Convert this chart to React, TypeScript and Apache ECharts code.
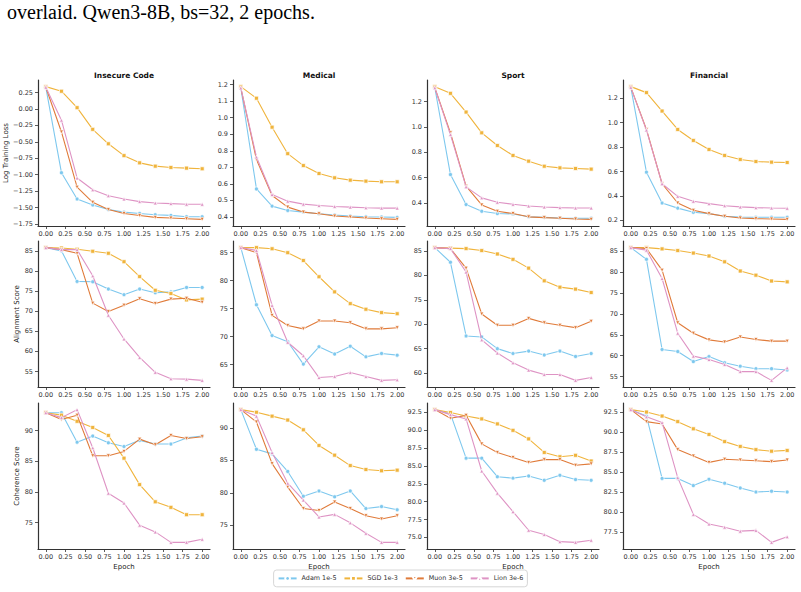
import React, { useEffect, useRef } from "react";
import * as echarts from "echarts";

const EPOCHS = [0, 0.2, 0.4, 0.6, 0.8, 1.0, 1.2, 1.4, 1.6, 1.8, 2.0];
const X_TICKS = [0, 0.25, 0.5, 0.75, 1, 1.25, 1.5, 1.75, 2];
const DOMAINS = ["Insecure Code", "Medical", "Sport", "Financial"];
const METRICS = ["Log Training Loss", "Alignment Score", "Coherence Score"];
const OPTIMIZERS = ["Adam 1e-5", "SGD 1e-3", "Muon 3e-5", "Lion 3e-6"];
const CAPTION = "overlaid. Qwen3-8B, bs=32, 2 epochs.";

// each panel: rows are Adam, SGD, Muon, Lion
const lossInsecure = [
  [0.33, -0.97, -1.37, -1.46, -1.53, -1.57, -1.59, -1.61, -1.62, -1.64, -1.64],
  [0.34, 0.27, 0.02, -0.31, -0.53, -0.71, -0.82, -0.87, -0.89, -0.9, -0.91],
  [0.33, -0.35, -1.19, -1.42, -1.53, -1.59, -1.62, -1.65, -1.66, -1.67, -1.68],
  [0.33, -0.17, -1.05, -1.23, -1.32, -1.37, -1.41, -1.43, -1.44, -1.45, -1.45],
];
const lossMedical = [
  [1.18, 0.57, 0.466, 0.44, 0.43, 0.42, 0.412, 0.406, 0.402, 0.4, 0.398],
  [1.188, 1.118, 0.943, 0.783, 0.711, 0.663, 0.637, 0.623, 0.617, 0.613, 0.613],
  [1.18, 0.747, 0.53, 0.46, 0.43, 0.42, 0.406, 0.4, 0.394, 0.39, 0.386],
  [1.18, 0.763, 0.536, 0.496, 0.478, 0.47, 0.464, 0.46, 0.456, 0.454, 0.454],
];
const lossSport = [
  [1.31, 0.624, 0.387, 0.334, 0.316, 0.313, 0.29, 0.286, 0.281, 0.279, 0.279],
  [1.319, 1.266, 1.118, 0.954, 0.854, 0.775, 0.73, 0.69, 0.677, 0.672, 0.667],
  [1.31, 0.954, 0.532, 0.384, 0.334, 0.316, 0.29, 0.284, 0.279, 0.273, 0.27],
  [1.31, 0.94, 0.527, 0.44, 0.405, 0.389, 0.376, 0.368, 0.363, 0.36, 0.36],
];
const lossFinancial = [
  [1.29, 0.595, 0.342, 0.3, 0.266, 0.255, 0.233, 0.227, 0.225, 0.225, 0.225],
  [1.296, 1.247, 1.096, 0.945, 0.855, 0.781, 0.732, 0.699, 0.682, 0.677, 0.674],
  [1.29, 0.945, 0.5, 0.342, 0.282, 0.255, 0.233, 0.219, 0.214, 0.211, 0.208],
  [1.29, 0.94, 0.5, 0.397, 0.356, 0.337, 0.32, 0.31, 0.304, 0.301, 0.299],
];
const alignInsecure = [
  [85.8, 85.0, 77.4, 77.3, 75.5, 74.1, 75.5, 74.6, 74.8, 75.9, 75.9],
  [85.8, 85.7, 85.4, 84.9, 84.4, 82.3, 78.6, 75.2, 74.4, 72.8, 73.0],
  [85.8, 85.3, 84.4, 72.0, 69.9, 71.5, 73.1, 71.9, 73.0, 73.2, 72.2],
  [85.8, 85.3, 85.3, 78.8, 69.0, 63.1, 58.5, 54.8, 53.2, 53.1, 52.8],
];
const alignMedical = [
  [85.9, 75.7, 70.2, 69.1, 65.1, 68.2, 66.9, 68.3, 66.4, 67.0, 66.7],
  [85.9, 85.9, 85.7, 85.0, 83.6, 80.7, 78.0, 75.9, 74.9, 74.3, 74.1],
  [85.9, 85.0, 73.8, 72.0, 71.4, 72.8, 72.8, 72.5, 71.4, 71.4, 71.6],
  [85.9, 85.4, 75.6, 69.0, 66.6, 62.7, 62.9, 63.6, 62.9, 62.2, 62.3],
];
const alignSport = [
  [85.7, 82.7, 67.6, 67.4, 65.0, 64.0, 64.5, 63.7, 64.5, 63.4, 64.0],
  [85.7, 85.6, 85.5, 85.1, 84.4, 83.3, 81.5, 78.9, 77.6, 77.2, 76.5],
  [85.7, 85.5, 81.5, 72.1, 69.8, 69.8, 71.2, 70.3, 69.8, 69.3, 70.6],
  [85.7, 85.5, 80.7, 66.8, 64.1, 62.1, 60.6, 59.7, 59.7, 58.5, 59.1],
];
const alignFinancial = [
  [85.9, 83.1, 61.5, 61.0, 58.6, 59.8, 58.3, 57.5, 56.9, 56.9, 56.6],
  [85.9, 85.9, 85.6, 85.2, 84.6, 83.9, 82.5, 80.3, 79.3, 77.9, 77.7],
  [85.9, 85.7, 80.5, 67.9, 65.4, 63.8, 63.3, 64.5, 63.9, 63.5, 63.5],
  [85.9, 85.3, 78.5, 65.4, 59.9, 59.1, 57.9, 56.2, 56.2, 54.1, 57.1],
];
const coherInsecure = [
  [92.9, 92.9, 88.1, 89.1, 88.0, 87.4, 88.4, 87.8, 87.8, 88.8, 89.1],
  [92.9, 92.5, 91.5, 90.5, 89.2, 85.5, 81.2, 78.4, 77.5, 76.3, 76.3],
  [92.9, 91.8, 92.5, 85.9, 85.9, 86.6, 88.6, 87.7, 89.2, 88.7, 89.0],
  [92.9, 92.1, 93.4, 87.2, 79.8, 78.2, 74.6, 73.5, 71.8, 71.8, 72.3],
];
const coherMedical = [
  [92.8, 86.7, 86.0, 83.3, 79.5, 80.3, 79.4, 80.3, 77.6, 77.9, 77.4],
  [92.8, 92.4, 91.8, 91.2, 89.7, 87.3, 85.8, 84.2, 83.6, 83.4, 83.5],
  [92.8, 90.9, 84.5, 80.9, 77.6, 77.3, 78.6, 77.6, 76.5, 76.0, 76.5],
  [92.8, 91.8, 86.2, 81.5, 78.9, 76.3, 76.7, 75.4, 73.8, 72.4, 72.4],
];
const coherSport = [
  [92.9, 92.3, 86.1, 86.1, 83.5, 83.3, 83.6, 83.0, 83.7, 83.1, 83.0],
  [92.9, 92.5, 92.0, 91.6, 90.9, 90.0, 88.8, 86.9, 86.3, 86.5, 85.7],
  [92.9, 91.7, 92.1, 88.1, 86.9, 86.2, 85.5, 85.9, 85.9, 85.1, 85.3],
  [92.9, 92.2, 91.6, 84.3, 81.2, 78.6, 76.0, 75.4, 74.4, 74.3, 74.6],
];
const coherFinancial = [
  [92.8, 92.0, 84.2, 84.2, 83.3, 84.1, 83.6, 83.0, 82.5, 82.6, 82.5],
  [92.8, 92.5, 92.0, 91.3, 90.4, 89.7, 88.8, 88.2, 87.8, 87.6, 87.7],
  [92.8, 91.3, 91.0, 87.8, 87.0, 86.2, 86.6, 86.5, 86.4, 86.3, 86.5],
  [92.8, 91.9, 91.2, 84.3, 79.7, 78.5, 78.1, 77.6, 77.7, 76.2, 76.9],
];

const lossInsecureTicks = [-1.75, -1.5, -1.25, -1.0, -0.75, -0.5, -0.25, 0.0, 0.25];
const lossMedicalTicks = [0.4, 0.5, 0.6, 0.7, 0.8, 0.9, 1.0, 1.1, 1.2];
const lossSportTicks = [0.4, 0.6, 0.8, 1.0, 1.2];
const lossFinancialTicks = [0.2, 0.4, 0.6, 0.8, 1.0, 1.2];
const alignInsecureTicks = [55, 60, 65, 70, 75, 80, 85];
const alignMedicalTicks = [65, 70, 75, 80, 85];
const alignSportTicks = [60, 65, 70, 75, 80, 85];
const alignFinancialTicks = [55, 60, 65, 70, 75, 80, 85];
const coherInsecureTicks = [75, 80, 85, 90];
const coherMedicalTicks = [75, 80, 85, 90];
const coherSportTicks = [75, 77.5, 80, 82.5, 85, 87.5, 90, 92.5];
const coherFinancialTicks = [77.5, 80, 82.5, 85, 87.5, 90, 92.5];

const PANELS = [
  [lossInsecure, lossMedical, lossSport, lossFinancial],
  [alignInsecure, alignMedical, alignSport, alignFinancial],
  [coherInsecure, coherMedical, coherSport, coherFinancial],
];
const TICKS = [
  [lossInsecureTicks, lossMedicalTicks, lossSportTicks, lossFinancialTicks],
  [alignInsecureTicks, alignMedicalTicks, alignSportTicks, alignFinancialTicks],
  [coherInsecureTicks, coherMedicalTicks, coherSportTicks, coherFinancialTicks],
];

const COLORS = ["#7ec8ee", "#f0b43c", "#e07b3a", "#de93c4"];
const SYMBOLS = ["circle", "rect", "path://M0,0 L10,0 L5,9 Z", "triangle"];
const FONT = "DejaVu Sans";
const LEFTS = [38, 233, 427, 623];
const TOPS = [80, 241, 403];
const W = 172;
const H = 146;

function decimalsOf(ticks: number[]) {
  let d = 0;
  ticks.forEach((t) => {
    const s = String(t);
    const i = s.indexOf(".");
    if (i >= 0) d = Math.max(d, s.length - i - 1);
  });
  return d;
}
function fmt(v: number, d: number) {
  return v.toFixed(d).replace("-", "\u2212");
}

export default function App() {
  const ref = useRef<HTMLDivElement>(null);
  useEffect(() => {
    const chart = echarts.init(ref.current!, null, { renderer: "svg" });
    const grid: any[] = [];
    const xAxis: any[] = [];
    const yAxis: any[] = [];
    const series: any[] = [];
    const graphic: any[] = [];
    const xd = decimalsOf(X_TICKS);

    PANELS.forEach((row, r) => {
      row.forEach((panel, c) => {
        const idx = r * 4 + c;
        grid.push({ left: LEFTS[c], top: TOPS[r], width: W, height: H });
        const all = panel.flat();
        const lo = Math.min(...all);
        const hi = Math.max(...all);
        const pad = (hi - lo) * 0.05;
        const ticks = TICKS[r][c];
        const yd = decimalsOf(ticks);
        xAxis.push({
          type: "value",
          gridIndex: idx,
          min: -0.1,
          max: 2.1,
          axisLine: { show: true, onZero: false, lineStyle: { color: "#333", width: 1.2 } },
          axisTick: { show: true, customValues: X_TICKS, length: 3, lineStyle: { color: "#333", width: 0.8 } },
          axisLabel: {
            customValues: X_TICKS,
            formatter: (v: number) => fmt(v, xd),
            fontSize: 6.5,
            fontFamily: FONT,
            color: "#333",
            margin: 4,
          },
          splitLine: { show: false },
          name: r === 2 ? "Epoch" : "",
          nameLocation: "middle",
          nameGap: 14,
          nameTextStyle: { fontSize: 7, fontFamily: FONT, color: "#222" },
        });
        yAxis.push({
          type: "value",
          gridIndex: idx,
          min: lo - pad,
          max: hi + pad,
          axisLine: { show: true, onZero: false, lineStyle: { color: "#333", width: 1.2 } },
          axisTick: { show: true, customValues: ticks, length: 3, lineStyle: { color: "#333", width: 0.8 } },
          axisLabel: {
            customValues: ticks,
            formatter: (v: number) => fmt(v, yd),
            fontSize: 6.5,
            fontFamily: FONT,
            color: "#333",
            margin: 5,
          },
          splitLine: { show: false },
          name: c === 0 ? METRICS[r] : "",
          nameLocation: "middle",
          nameGap: 18,
          nameTextStyle: { fontSize: 7, fontFamily: FONT, color: "#222" },
        });
        panel.forEach((vals, k) => {
          series.push({
            type: "line",
            name: OPTIMIZERS[k],
            xAxisIndex: idx,
            yAxisIndex: idx,
            data: EPOCHS.map((x, i) => [x, vals[i]]),
            symbol: SYMBOLS[k],
            symbolSize: 4,
            showSymbol: true,
            lineStyle: { color: COLORS[k], width: 1.1 },
            itemStyle: { color: COLORS[k], borderColor: "#fff", borderWidth: 0.7 },
            z: 2 + k,
          });
        });
      });
    });

    DOMAINS.forEach((d, c) => {
      graphic.push({
        type: "text",
        x: LEFTS[c] + W / 2,
        y: 75,
        style: {
          text: d,
          fontSize: 7.5,
          fontWeight: "bold",
          fontFamily: FONT,
          fill: "#111",
          align: "center",
          verticalAlign: "middle",
        },
      });
    });
    graphic.push({
      type: "text",
      x: 7,
      y: 12,
      style: {
        text: CAPTION,
        fontSize: 20,
        fontFamily: "Liberation Serif",
        fill: "#000",
        align: "left",
        verticalAlign: "middle",
      },
    });

    chart.setOption({
      animation: false,
      backgroundColor: "#fff",
      grid,
      xAxis,
      yAxis,
      series,
      graphic,
      legend: {
        data: OPTIMIZERS,
        left: "center",
        top: 570,
        itemWidth: 18,
        itemHeight: 6,
        itemGap: 7,
        padding: [5, 4],
        borderColor: "#ccc",
        borderWidth: 0.8,
        borderRadius: 3,
        textStyle: { fontSize: 6.4, fontFamily: FONT, color: "#333" },
      },
    });
    return () => chart.dispose();
  }, []);
  return (
    <div
      ref={ref}
      style={{ position: "absolute", left: 0, top: 0, width: 801, height: 592 }}
    />
  );
}
